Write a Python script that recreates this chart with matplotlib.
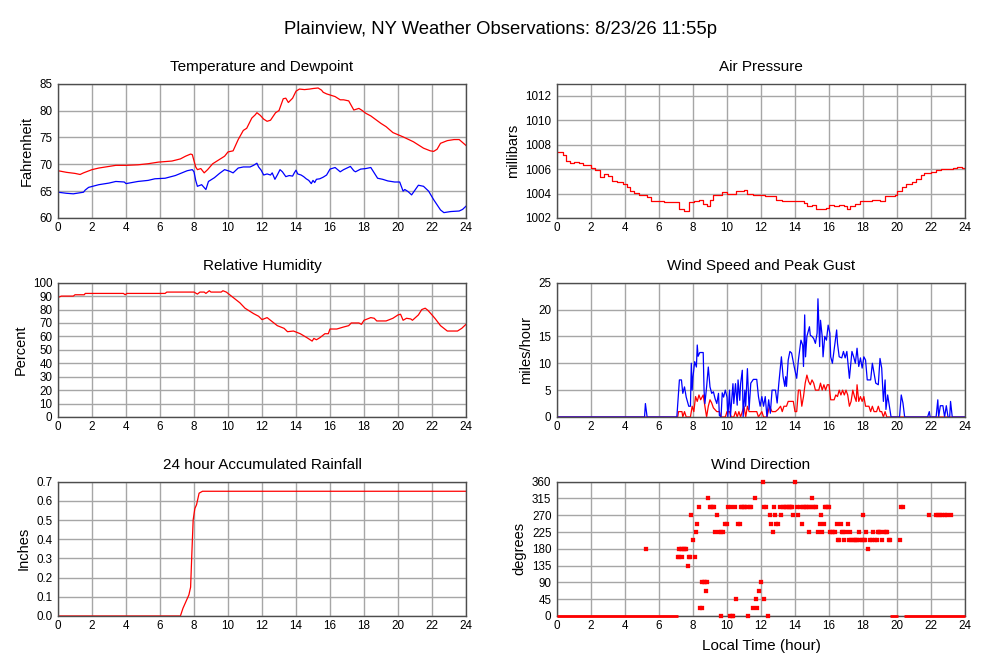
import matplotlib
matplotlib.use("Agg")
import matplotlib.pyplot as plt

plt.rcParams['font.family'] = ['Liberation Sans', 'DejaVu Sans']

# ---------------- data ----------------
hour_ticks = list(range(0, 25, 2))

temp_h = [0, 0.5, 1.0, 1.3, 1.5, 2.0, 2.4, 2.8, 3.4, 4.0, 4.7, 5.3, 5.9, 6.7, 7.2, 7.5, 7.8, 7.9,
          8.1, 8.2, 8.4, 8.6, 8.8, 9.1, 9.4, 9.8, 10.0, 10.3, 10.6, 10.9, 11.1, 11.4, 11.6, 11.7,
          11.9, 12.1, 12.3, 12.5, 12.8, 13.0, 13.25, 13.4, 13.55, 13.8, 14.0, 14.2, 14.5, 14.8,
          15.0, 15.3, 15.5, 15.6, 15.8, 16.1, 16.3, 16.6, 16.8, 17.1, 17.4, 17.7, 17.9, 18.1,
          18.4, 18.7, 19.0, 19.3, 19.7, 20.0, 20.3, 20.9, 21.5, 21.9, 22.1, 22.3, 22.5, 22.9,
          23.3, 23.6, 24.0]
temp_f = [68.8, 68.5, 68.3, 68.1, 68.4, 69.0, 69.3, 69.5, 69.8, 69.8, 69.9, 70.1, 70.4, 70.6, 71.0,
          71.5, 71.9, 71.8, 69.5, 69.0, 69.2, 68.4, 69.0, 70.1, 70.7, 71.5, 72.3, 72.5, 74.6, 76.3,
          76.7, 78.6, 79.2, 79.6, 79.1, 78.4, 78.0, 78.2, 79.6, 80.0, 82.2, 82.3, 81.5, 82.3, 83.6,
          84.0, 83.9, 84.0, 84.1, 84.2, 83.8, 83.4, 83.1, 82.8, 82.6, 82.0, 82.0, 81.8, 80.1, 80.4,
          80.0, 79.5, 79.0, 78.3, 77.6, 77.0, 75.9, 75.5, 75.1, 74.2, 73.0, 72.5, 72.4, 72.8, 73.9,
          74.4, 74.6, 74.6, 73.5]

dew_h = [0, 0.5, 0.9, 1.5, 1.6, 1.8, 2.4, 3.0, 3.4, 3.9, 4.0, 4.7, 5.3, 5.7, 6.3, 6.9, 7.6, 7.9,
         8.0, 8.1, 8.2, 8.45, 8.7, 8.85, 9.2, 9.5, 9.8, 10.1, 10.3, 10.6, 10.9, 11.3, 11.5, 11.7,
         11.8, 11.95, 12.1, 12.3, 12.5, 12.6, 12.76, 12.9, 13.06, 13.2, 13.4, 13.6, 13.8, 13.9,
         14.0, 14.1, 14.3, 14.45, 14.6, 14.75, 14.9, 15.0, 15.1, 15.2, 15.4, 15.6, 15.8, 16.0,
         16.3, 16.6, 16.8, 17.0, 17.2, 17.4, 17.5, 17.8, 18.1, 18.4, 18.6, 18.8, 19.1, 19.4, 19.8,
         20.1, 20.3, 20.4, 20.6, 20.8, 21.0, 21.2, 21.5, 21.8, 22.1, 22.5, 22.7, 23.1, 23.6, 23.8,
         24.0]
dew_f = [64.8, 64.6, 64.5, 64.8, 65.2, 65.7, 66.2, 66.5, 66.8, 66.7, 66.4, 66.8, 67.0, 67.3, 67.4,
         67.9, 68.8, 69.0, 68.6, 67.0, 65.9, 66.2, 65.3, 66.8, 67.5, 68.3, 69.0, 68.7, 68.4, 69.3,
         69.5, 69.5, 69.8, 70.2, 69.5, 68.9, 68.0, 68.2, 68.0, 68.4, 67.2, 68.0, 69.0, 68.6, 67.7,
         67.9, 67.8, 68.4, 68.9, 68.2, 68.0, 67.7, 67.3, 67.0, 66.4, 67.0, 66.6, 67.2, 67.3, 67.6,
         68.0, 69.1, 69.4, 68.6, 69.0, 69.3, 69.6, 68.8, 68.6, 69.1, 69.2, 69.4, 68.4, 67.4, 67.2,
         66.9, 66.7, 66.7, 65.0, 65.3, 64.9, 64.3, 65.2, 66.1, 65.9, 65.0, 63.4, 61.5, 61.0, 61.2,
         61.3, 61.6, 62.2]

pres_h = [0, 0.35, 0.5, 0.75, 1.0, 1.3, 1.5, 2.0, 2.25, 2.5, 2.75, 3.0, 3.25, 3.5, 3.9, 4.1, 4.3,
          4.5, 4.8, 5.3, 5.5, 6.3, 7.15, 7.45, 7.75, 8.05, 8.35, 8.6, 8.8, 9.0, 9.2, 9.7, 10.0,
          10.5, 11.0, 11.2, 11.5, 12.25, 12.9, 13.25, 14.5, 14.7, 15.0, 15.25, 15.8, 16.0, 16.3,
          16.6, 16.9, 17.05, 17.25, 17.5, 17.8, 18.5, 19.0, 19.3, 19.9, 20.0, 20.3, 20.5, 20.9,
          21.1, 21.4, 21.6, 22.0, 22.3, 22.6, 23.3, 23.5, 23.8, 24.0]
pres_mb = [1007.4, 1007.2, 1006.7, 1006.5, 1006.6, 1006.5, 1006.3, 1006.1, 1005.9, 1005.35,
           1005.6, 1005.45, 1005.05, 1004.95, 1004.8, 1004.5, 1004.25, 1004.05, 1003.85, 1003.7,
           1003.4, 1003.3, 1002.7, 1002.6, 1003.3, 1003.4, 1003.5, 1003.15, 1002.95, 1003.45,
           1003.9, 1004.15, 1004.0, 1004.2, 1004.3, 1004.0, 1003.85, 1003.8, 1003.5, 1003.4,
           1003.25, 1003.0, 1003.1, 1002.75, 1002.85, 1003.1, 1003.0, 1003.1, 1003.0, 1002.75,
           1003.0, 1003.15, 1003.4, 1003.5, 1003.4, 1003.8, 1003.9, 1004.25, 1004.5, 1004.8,
           1004.95, 1005.2, 1005.5, 1005.65, 1005.75, 1005.9, 1006.0, 1006.1, 1006.2, 1006.1,
           1006.0]

rh_h = [0, 0.2, 0.9, 1.0, 1.55, 1.6, 3.85, 3.95, 4.05, 6.3, 6.4, 8.0, 8.2, 8.35, 8.6, 8.7, 8.9,
        9.0, 9.6, 9.7, 9.9, 10.0, 10.3, 10.7, 11.0, 11.5, 11.8, 12.0, 12.3, 12.6, 12.9, 13.3,
        13.5, 13.85, 14.25, 14.65, 14.95, 15.05, 15.2, 15.4, 15.7, 15.9, 16.0, 16.4, 16.8, 17.1,
        17.25, 17.7, 17.85, 18.0, 18.4, 18.6, 18.75, 19.3, 19.7, 20.0, 20.15, 20.3, 20.5, 20.75,
        20.85, 21.2, 21.4, 21.6, 21.75, 22.0, 22.2, 22.5, 22.7, 22.9, 23.5, 23.75, 24.0]
rh_pct = [89, 90, 90, 91, 91, 92, 92, 91, 92, 92, 93, 93, 91.5, 93, 93, 92, 94, 93, 93, 94, 93,
          92, 89, 85, 81, 77, 75, 72.5, 74, 71, 68, 66, 63.5, 64, 62, 59, 56.5, 58.5, 57.5, 59,
          62, 62, 65.5, 65.5, 67, 68, 70, 70, 69, 72, 74, 73.5, 71.5, 71.5, 73.5, 76, 76.5, 72,
          73.5, 73, 72, 76, 80, 81, 79.5, 76, 73, 68, 66, 64, 64, 66, 69]

gust_h = [0, 5.15, 5.2, 5.3, 7.05, 7.2, 7.32, 7.4, 7.5, 7.6, 7.75, 7.85, 7.9, 7.95, 8.0, 8.1,
          8.2, 8.25, 8.3, 8.4, 8.6, 8.65, 8.7, 8.8, 8.9, 9.0, 9.1, 9.2, 9.3, 9.4, 9.5, 9.55, 9.65,
          9.72, 9.8, 9.9, 10.0, 10.05, 10.15, 10.2, 10.35, 10.4, 10.5, 10.6, 10.65, 10.75, 10.8,
          10.9, 10.95, 11.05, 11.1, 11.2, 11.3, 11.4, 11.55, 11.75, 11.85, 11.95, 12.05, 12.15,
          12.25, 12.35, 12.45, 12.55, 12.65, 12.85, 12.95, 13.05, 13.2, 13.3, 13.4, 13.45, 13.5,
          13.6, 13.7, 13.8, 13.95, 14.1, 14.2, 14.35, 14.45, 14.5, 14.57, 14.62, 14.7, 14.85,
          14.9, 15.0, 15.1, 15.2, 15.3, 15.35, 15.45, 15.5, 15.6, 15.65, 15.75, 15.85, 15.95,
          16.05, 16.1, 16.2, 16.3, 16.45, 16.5, 16.6, 16.75, 16.85, 16.95, 17.05, 17.15, 17.2,
          17.35, 17.45, 17.55, 17.65, 17.75, 17.85, 17.95, 18.05, 18.15, 18.25, 18.45, 18.55,
          18.65, 18.75, 18.9, 19.0, 19.1, 19.2, 19.3, 19.35, 19.45, 19.55, 19.65, 20.15, 20.25,
          20.35, 20.45, 21.8, 21.9, 21.95, 22.3, 22.4, 22.45, 22.55, 22.7, 22.8, 22.9, 23.0,
          23.1, 23.15, 23.25, 24.0]
gust_mph = [0, 0, 2.5, 0, 0, 6.9, 6.9, 4.4, 5.6, 3.7, 2.0, 2.0, 10.0, 5.0, 7.5, 10.3, 9.3, 13.4,
            11.3, 12.0, 12.0, 5.0, 2.5, 5.6, 9.3, 5.6, 4.4, 4.7, 3.4, 2.5, 4.4, 0.3, 0, 4.5, 3.7,
            5.0, 3.7, 0, 5.0, 0, 6.2, 2.5, 6.2, 2.2, 6.9, 3.1, 6.2, 8.7, 0, 5.0, 2.0, 9.0, 1.4,
            6.3, 7.0, 7.0, 3.8, 2.0, 3.8, 2.0, 3.8, 0, 3.2, 0.7, 5.0, 5.0, 2.6, 6.3, 11.2, 7.5,
            5.7, 7.5, 5.7, 10.6, 12.2, 11.9, 9.4, 7.2, 10.6, 14.3, 13.4, 9.4, 19.0, 11.2, 15.0,
            16.8, 15.2, 15.0, 14.6, 13.7, 15.6, 22.0, 13.1, 18.0, 15.0, 11.2, 15.0, 14.3, 17.1,
            15.6, 11.2, 10.0, 12.5, 16.2, 13.7, 11.2, 11.0, 12.2, 11.0, 12.2, 8.8, 7.2, 12.2,
            11.2, 10.0, 12.8, 9.4, 11.0, 9.1, 11.2, 10.6, 6.9, 6.9, 10.0, 8.1, 6.3, 6.0, 10.9,
            9.1, 2.9, 6.9, 1.4, 4.1, 2.0, 0, 0, 4.1, 2.6, 0, 0, 1.0, 0, 0, 3.2, 0, 2.1, 2.1, 0,
            2.1, 0, 0, 2.9, 0, 0]

speed_h = [0, 7.1, 7.15, 7.35, 7.4, 7.5, 7.6, 7.85, 7.95, 8.05, 8.15, 8.25, 8.35, 8.45, 8.6,
           8.7, 8.8, 8.9, 9.0, 9.1, 9.2, 9.4, 9.55, 9.65, 9.9, 10.0, 10.15, 10.25, 10.4, 10.5,
           10.6, 10.7, 10.8, 10.9, 11.0, 11.1, 11.2, 11.3, 11.55, 11.75, 11.85, 12.05, 12.15,
           12.35, 12.5, 12.65, 12.85, 13.0, 13.15, 13.25, 13.35, 13.5, 13.6, 13.9, 14.0, 14.1,
           14.2, 14.3, 14.4, 14.5, 14.6, 14.7, 14.8, 14.9, 15.0, 15.1, 15.2, 15.4, 15.5, 15.6,
           15.7, 15.8, 15.9, 16.0, 16.1, 16.3, 16.4, 16.5, 16.6, 16.7, 16.8, 16.9, 17.0, 17.1,
           17.2, 17.3, 17.4, 17.5, 17.6, 17.65, 17.75, 17.85, 17.95, 18.05, 18.15, 18.35, 18.45,
           18.55, 18.65, 18.8, 18.9, 19.0, 19.1, 19.2, 19.3, 19.4, 24.0]
speed_mph = [0, 0, 1, 1, 0, 1, 0, 0, 2, 1, 3.8, 2.9, 4.1, 3.2, 4.1, 2, 0, 2, 3.2, 2.6, 1.7, 1,
             1, 0, 0, 1, 1, 0, 0, 1, 0, 1, 0, 1, 2, 0, 2, 1, 1, 1, 0, 1, 0, 0, 2, 1, 1, 1.4, 2,
             1, 2, 2, 2.9, 2.9, 1, 1, 5, 5, 2, 3.8, 6.3, 7.8, 6.6, 6, 6.9, 6.3, 5, 5, 6.3, 5, 6,
             5, 6, 6, 3.2, 3.2, 4.1, 3.8, 5, 4.1, 5, 4.1, 5, 4.1, 2, 2.9, 5, 3.8, 2.9, 6, 2.9,
             3.8, 2.9, 3.8, 2, 2, 1, 2, 1, 1, 2, 1, 1, 0, 1, 0, 0]

rain_h = [0, 7.2, 7.35, 7.5, 7.6, 7.7, 7.8, 7.88, 7.95, 8.05, 8.15, 8.25, 8.3, 8.4, 8.5, 24.0]
rain_in = [0, 0, 0.04, 0.07, 0.09, 0.11, 0.15, 0.34, 0.50, 0.56, 0.58, 0.62, 0.64, 0.645, 0.65,
           0.65]

# calm (0 degree) periods in wind direction, drawn as runs of dots
calm_start = [0.0, 19.6, 20.4]
calm_end = [7.1, 20.05, 24.0]
dir_h = [5.24, 7.12, 7.2, 7.2, 7.28, 7.35, 7.35, 7.45, 7.55, 7.6, 7.7, 7.75, 7.85, 7.9, 7.98,
         8.1, 8.15, 8.25, 8.35, 8.43, 8.5, 8.55, 8.65, 8.72, 8.75, 8.8, 8.9, 9.0, 9.08, 9.17,
         9.25, 9.3, 9.4, 9.5, 9.62, 9.65, 9.78, 9.9, 10.0, 10.05, 10.15, 10.25, 10.3, 10.35,
         10.45, 10.55, 10.65, 10.75, 10.82, 10.9, 11.0, 11.08, 11.17, 11.25, 11.33, 11.42,
         11.55, 11.65, 11.7, 11.75, 11.9, 12.0, 12.1, 12.15, 12.2, 12.3, 12.4, 12.5, 12.6,
         12.7, 12.75, 12.85, 12.9, 13.0, 13.1, 13.2, 13.28, 13.37, 13.45, 13.53, 13.62, 13.7,
         13.78, 13.85, 13.9, 14.0, 14.1, 14.2, 14.3, 14.4, 14.45, 14.55, 14.65, 14.72, 14.8,
         14.85, 14.92, 15.0, 15.08, 15.17, 15.25, 15.35, 15.45, 15.5, 15.6, 15.7, 15.75, 15.85,
         15.92, 16.0, 16.05, 16.15, 16.25, 16.35, 16.45, 16.5, 16.6, 16.7, 16.75, 16.85, 16.9,
         17.0, 17.1, 17.15, 17.25, 17.3, 17.4, 17.5, 17.58, 17.65, 17.75, 17.85, 17.93, 17.98,
         18.05, 18.1, 18.2, 18.3, 18.4, 18.5, 18.6, 18.7, 18.8, 18.88, 18.95, 19.0, 19.1,
         19.25, 19.33, 19.4, 19.5, 19.58, 20.15, 20.25, 20.35, 21.9, 22.3, 22.4, 22.55, 22.65,
         22.8, 22.95, 23.15]
dir_deg = [180, 157.5, 157.5, 180, 180, 157.5, 180, 180, 180, 180, 135, 157.5, 157.5, 270, 202.5,
           157.5, 225, 247.5, 292.5, 22.5, 22.5, 90, 90, 90, 67.5, 90, 315, 292.5, 292.5, 292.5,
           292.5, 225, 270, 225, 225, 0, 225, 247.5, 247.5, 292.5, 0, 292.5, 0, 0, 292.5, 45,
           247.5, 247.5, 292.5, 292.5, 292.5, 292.5, 292.5, 0, 292.5, 292.5, 22.5, 315, 45,
           22.5, 67.5, 90, 360, 45, 292.5, 292.5, 0, 270, 247.5, 225, 292.5, 270, 247.5, 247.5,
           292.5, 270, 292.5, 292.5, 292.5, 292.5, 292.5, 292.5, 292.5, 292.5, 270, 360, 292.5,
           270, 292.5, 247.5, 292.5, 292.5, 292.5, 292.5, 292.5, 225, 292.5, 315, 292.5, 292.5,
           292.5, 225, 247.5, 270, 225, 247.5, 292.5, 292.5, 292.5, 292.5, 225, 225, 225, 225,
           247.5, 202.5, 202.5, 247.5, 225, 225, 202.5, 225, 247.5, 202.5, 225, 202.5, 202.5,
           202.5, 202.5, 202.5, 225, 202.5, 202.5, 270, 202.5, 202.5, 225, 180, 202.5, 202.5,
           225, 202.5, 202.5, 225, 225, 225, 202.5, 225, 225, 225, 202.5, 202.5, 202.5, 292.5,
           292.5, 270, 270, 270, 270, 270, 270, 270, 270]

# ---------------- figure ----------------
RED = '#ff0000'
BLUE = '#0000ff'
GRID = '#a6a6a6'
FRAME = '#4d4d4d'

fig = plt.figure(figsize=(10, 6.6), dpi=100)
fig.suptitle('Plainview, NY Weather Observations: 8/23/26 11:55p', fontsize=13.3, y=0.968)

col_left = [0.058, 0.557]
row_bottom = [0.6697, 0.3682, 0.0667]
W, H = 0.408, 0.2035


def make_ax(col, row, title, ylabel, ylim, yticks, yticklabels=None):
    ax = fig.add_axes([col_left[col], row_bottom[row], W, H])
    ax.set_xlim(0, 24)
    ax.set_ylim(*ylim)
    ax.set_xticks(hour_ticks)
    ax.set_yticks(yticks)
    if yticklabels is not None:
        ax.set_yticklabels(yticklabels)
    ax.grid(True, color=GRID, lw=1.0)
    ax.set_axisbelow(True)
    for s in ax.spines.values():
        s.set_color(FRAME)
        s.set_linewidth(1.0)
    ax.tick_params(length=0, labelsize=8.4, pad=4, colors='black')
    ax.tick_params(axis='x', pad=3)
    ax.set_title(title, fontsize=11, pad=9)
    ax.set_ylabel(ylabel, fontsize=10.5, labelpad=4)
    return ax


ax1 = make_ax(0, 0, 'Temperature and Dewpoint', 'Fahrenheit', (60, 85), range(60, 86, 5))
ax1.plot(temp_h, temp_f, color=RED, lw=0.9)
ax1.plot(dew_h, dew_f, color=BLUE, lw=0.9)

ax2 = make_ax(1, 0, 'Air Pressure', 'millibars', (1002, 1013), range(1002, 1013, 2))
ax2.plot(pres_h, pres_mb, color=RED, lw=0.9, drawstyle='steps-post')

ax3 = make_ax(0, 1, 'Relative Humidity', 'Percent', (0, 100), range(0, 101, 10))
ax3.plot(rh_h, rh_pct, color=RED, lw=0.9)

ax4 = make_ax(1, 1, 'Wind Speed and Peak Gust', 'miles/hour', (0, 25), range(0, 26, 5))
ax4.plot(speed_h, speed_mph, color=RED, lw=0.9)
ax4.plot(gust_h, gust_mph, color=BLUE, lw=0.9)

rain_ticks = [0.0, 0.1, 0.2, 0.3, 0.4, 0.5, 0.6, 0.7]
ax5 = make_ax(0, 2, '24 hour Accumulated Rainfall', 'Inches', (0, 0.7), rain_ticks,
              ['%.1f' % v for v in rain_ticks])
ax5.plot(rain_h, rain_in, color=RED, lw=0.9)

ax6 = make_ax(1, 2, 'Wind Direction', 'degrees', (0, 360), range(0, 361, 45))
ax6.hlines([0] * len(calm_start), calm_start, calm_end, color=RED, lw=2.0, clip_on=False,
           zorder=3)
ax6.plot(dir_h, dir_deg, ls='none', marker='s', ms=2.2, mfc=RED, mec=RED, mew=0.2,
         clip_on=False, zorder=3)
ax6.set_xlabel('Local Time (hour)', fontsize=11, labelpad=5)

fig.savefig('out.png', dpi=100)
